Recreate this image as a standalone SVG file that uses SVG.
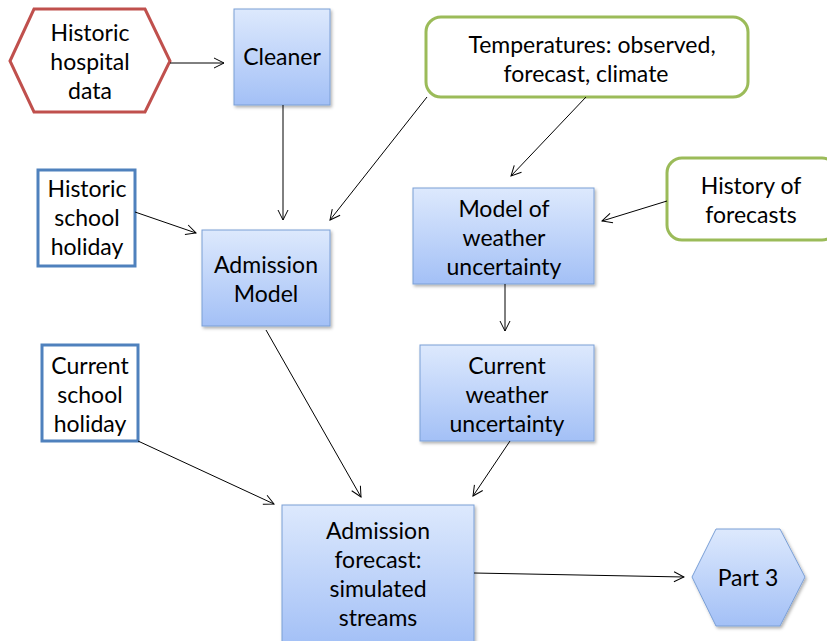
<svg xmlns="http://www.w3.org/2000/svg" width="827" height="641" viewBox="0 0 827 641">
<defs>
<linearGradient id="blue" x1="0" y1="0" x2="0" y2="1">
<stop offset="0" stop-color="#dde9fd"/>
<stop offset="1" stop-color="#a3c0f6"/>
</linearGradient>
<filter id="sh" x="-10%" y="-10%" width="130%" height="130%">
<feDropShadow dx="1.5" dy="2" stdDeviation="1.5" flood-color="#000" flood-opacity="0.3"/>
</filter>
<marker id="arr" viewBox="0 0 12 12" refX="11" refY="6" markerWidth="12" markerHeight="12" markerUnits="userSpaceOnUse" orient="auto">
<path d="M1,1 L11,6 L1,11" fill="none" stroke="#000" stroke-width="1"/>
</marker>
</defs>
<style>
text{font-family:Lato,"Open Sans","Liberation Sans",sans-serif;font-size:23px;fill:#000;text-anchor:middle}
.proc{fill:url(#blue);stroke:#7a9fd6;stroke-width:1;filter:url(#sh)}
.green{fill:#fff;stroke:#9bbb59;stroke-width:3}
.bluebox{fill:#fff;stroke:#4f81bd;stroke-width:3}
.conn line{stroke:#000;stroke-width:1;marker-end:url(#arr)}
</style>
<rect width="827" height="641" fill="#fff"/>
<g id="hospital">
<polygon points="10,61 34,9 145,9 170,61 145,112 34,112" fill="#fff" stroke="#c0504d" stroke-width="3"/>
<text x="90" y="41">Historic</text><text x="90" y="70">hospital</text><text x="90" y="99">data</text>
</g>
<g id="cleaner">
<rect class="proc" x="234" y="9" width="96" height="96"/>
<text x="282" y="65">Cleaner</text>
</g>
<g id="temps">
<rect class="green" x="426" y="17" width="322" height="80" rx="15"/>
<text x="592" y="53">Temperatures: observed,</text><text x="586" y="82">forecast, climate</text>
</g>
<g id="histfc">
<rect class="green" x="667" y="158" width="170" height="82" rx="15"/>
<text x="751" y="194">History of</text><text x="751" y="223">forecasts</text>
</g>
<g id="hsh">
<rect class="bluebox" x="38" y="170" width="97" height="96"/>
<text x="87" y="197">Historic</text><text x="87" y="226">school</text><text x="87" y="255">holiday</text>
</g>
<g id="admodel">
<rect class="proc" x="202" y="230" width="128" height="96"/>
<text x="266" y="273">Admission</text><text x="266" y="302">Model</text>
</g>
<g id="mwu">
<rect class="proc" x="413" y="188" width="181" height="96"/>
<text x="504" y="217">Model of</text><text x="504" y="246">weather</text><text x="504" y="275">uncertainty</text>
</g>
<g id="cwu">
<rect class="proc" x="420" y="345" width="174" height="96"/>
<text x="507" y="374">Current</text><text x="507" y="403">weather</text><text x="507" y="432">uncertainty</text>
</g>
<g id="csh">
<rect class="bluebox" x="42" y="345" width="96" height="96"/>
<text x="90" y="374">Current</text><text x="90" y="403">school</text><text x="90" y="432">holiday</text>
</g>
<g id="afc">
<rect class="proc" x="282" y="505" width="192" height="140"/>
<text x="378" y="539">Admission</text><text x="378" y="568">forecast:</text><text x="378" y="597">simulated</text><text x="378" y="626">streams</text>
</g>
<g id="part3">
<polygon class="proc" points="692,577 716,529 780,529 805,577 780,626 716,626"/>
<text x="748" y="586">Part 3</text>
</g>
<g id="connectors" class="conn">
<line x1="170" y1="63" x2="224" y2="63"/>
<line x1="283" y1="105" x2="283" y2="220"/>
<line x1="427" y1="97" x2="330" y2="220"/>
<line x1="586" y1="97" x2="511" y2="176"/>
<line x1="667" y1="201" x2="602" y2="221"/>
<line x1="135" y1="212" x2="196" y2="233"/>
<line x1="505" y1="284" x2="505" y2="331"/>
<line x1="510" y1="441" x2="473" y2="496"/>
<line x1="266" y1="330" x2="361" y2="497"/>
<line x1="138" y1="441" x2="274" y2="504"/>
<line x1="474" y1="573" x2="684" y2="577"/>
</g>
</svg>
